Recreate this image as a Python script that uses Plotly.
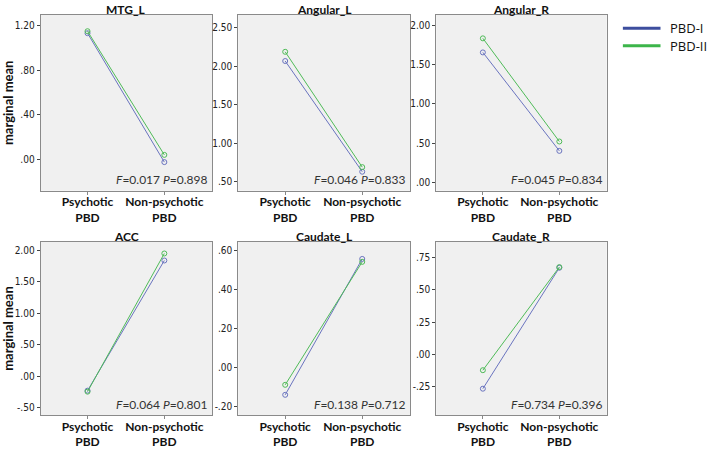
import plotly.graph_objects as go

W, H = 711, 449

categories = ["Psychotic<br>PBD", "Non-psychotic<br>PBD"]
panel_titles = ["MTG_L", "Angular_L", "Angular_R", "ACC", "Caudate_L", "Caudate_R"]
series_names = ["PBD-I", "PBD-II"]

pbd1 = [
    [1.135, -0.027],
    [2.07, 0.63],
    [1.66, 0.40],
    [-0.227, 1.835],
    [-0.138, 0.555],
    [-0.265, 0.670],
]
pbd2 = [
    [1.153, 0.038],
    [2.19, 0.69],
    [1.84, 0.52],
    [-0.243, 1.946],
    [-0.087, 0.540],
    [-0.122, 0.675],
]
stats = [
    ("0.017", "0.898"),
    ("0.046", "0.833"),
    ("0.045", "0.834"),
    ("0.064", "0.801"),
    ("0.138", "0.712"),
    ("0.734", "0.396"),
]
tick_vals = [
    [0.0, 0.4, 0.8, 1.2],
    [0.5, 1.0, 1.5, 2.0, 2.5],
    [0.0, 0.5, 1.0, 1.5, 2.0],
    [-0.5, 0.0, 0.5, 1.0, 1.5, 2.0],
    [-0.2, 0.0, 0.2, 0.4, 0.6],
    [-0.25, 0.0, 0.25, 0.5, 0.75],
]
tick_text = [
    [".00", ".40", ".80", "1.20"],
    [".50", "1.00", "1.50", "2.00", "2.50"],
    [".00", ".50", "1.00", "1.50", "2.00"],
    ["-.50", ".00", ".50", "1.00", "1.50", "2.00"],
    ["-.20", ".00", ".20", ".40", ".60"],
    ["-.25", ".00", ".25", ".50", ".75"],
]
y_ranges = [
    [-0.285, 1.30],
    [0.383, 2.67],
    [-0.11, 2.14],
    [-0.616, 2.13],
    [-0.242, 0.642],
    [-0.47, 0.87],
]

# pixel boxes of the panels (left, right, top, bottom)
col_px = [(34, 207), (233.5, 407), (433.5, 605.7)]
row_px = [(15, 192), (243.5, 418)]

blue_line = "#6a74bf"
green_line = "#4fbb58"
blue_leg = "#3d4e9e"
green_leg = "#3cb54a"

title_font = "Lato, 'Open Sans', sans-serif"
tick_font = "'Liberation Sans Narrow', 'DejaVu Sans Condensed', 'Liberation Sans', sans-serif"

fig = go.Figure()
annotations = []
shapes = []
for i in range(6):
    r, c = divmod(i, 3)
    n = i + 1
    xa = "xaxis" if n == 1 else f"xaxis{n}"
    ya = "yaxis" if n == 1 else f"yaxis{n}"
    xref = "x" if n == 1 else f"x{n}"
    yref = "y" if n == 1 else f"y{n}"
    l, rr = col_px[c]
    t, b = row_px[r]
    shapes.append(dict(type="rect", xref="paper", yref="paper",
                       x0=l / W, x1=rr / W, y0=1 - b / H, y1=1 - t / H,
                       fillcolor="#f0f0f0", line=dict(width=0), layer="below"))
    xs = [0, 1]
    fig.add_trace(go.Scatter(
        x=xs, y=pbd1[i], mode="lines+markers", xaxis=xref, yaxis=yref,
        name=series_names[0],
        line=dict(color=blue_line, width=1),
        marker=dict(symbol="circle-open", size=5, color=blue_line, line=dict(width=1)),
        showlegend=False, hoverinfo="skip"))
    fig.add_trace(go.Scatter(
        x=xs, y=pbd2[i], mode="lines+markers", xaxis=xref, yaxis=yref,
        name=series_names[1],
        line=dict(color=green_line, width=1),
        marker=dict(symbol="circle-open", size=5, color=green_line, line=dict(width=1)),
        showlegend=False, hoverinfo="skip"))
    fig.layout[xa] = dict(
        domain=[l / W, rr / W], range=[-0.61, 1.62], anchor=yref,
        tickvals=[0, 1], ticktext=categories, ticks="outside", ticklen=3,
        ticklabelstandoff=-3,
        tickcolor="#888", showline=True, linecolor="#8a8a8a", mirror=True,
        showgrid=False, zeroline=False, fixedrange=True,
        tickfont=dict(family=title_font, size=12, color="#111", weight="bold"))
    fig.layout[ya] = dict(
        domain=[1 - b / H, 1 - t / H], range=y_ranges[i], anchor=xref,
        tickvals=tick_vals[i], ticktext=tick_text[i], ticks="outside", ticklen=3,
        tickcolor="#444", showline=True, linecolor="#8a8a8a", mirror=True,
        showgrid=False, zeroline=False, fixedrange=True,
        tickfont=dict(family=tick_font, size=10, color="#222"))
    if c == 0:
        fig.layout[ya].title = dict(
            text="marginal mean", standoff=6,
            font=dict(family=title_font, size=13, color="#111", weight="bold"))
    annotations.append(dict(
        xref="paper", yref="paper", x=(l + rr) / 2 / W, y=1 - (t - 5) / H,
        xanchor="center", yanchor="middle", showarrow=False, text=panel_titles[i],
        font=dict(family=title_font, size=12, color="#111", weight="bold")))
    f, p = stats[i]
    annotations.append(dict(
        xref="paper", yref="paper", x=(rr - 2) / W, y=1 - (b - 11) / H,
        xanchor="right", yanchor="middle", showarrow=False,
        text=f"<i>F</i>=" + f + f" <i>P</i>=" + p,
        font=dict(family=title_font, size=12, color="#333")))

# legend (drawn as line samples + labels)
leg_y = [28.5, 46]
for name, col, yy in zip(series_names, [blue_leg, green_leg], leg_y):
    shapes.append(dict(type="line", xref="paper", yref="paper",
                       x0=622 / W, x1=660 / W, y0=1 - yy / H, y1=1 - yy / H,
                       line=dict(color=col, width=3)))
    annotations.append(dict(
        xref="paper", yref="paper", x=669 / W, y=1 - yy / H,
        xanchor="left", yanchor="middle", showarrow=False, text=name,
        borderpad=0,
        font=dict(family="'Open Sans', Lato, sans-serif", size=13, color="#111")))

fig.update_layout(
    width=W, height=H, margin=dict(l=0, r=0, t=0, b=0),
    paper_bgcolor="white", plot_bgcolor="rgba(0,0,0,0)",
    annotations=annotations, shapes=shapes, showlegend=False,
)

fig.write_html("out.html", config={"displayModeBar": False},
               post_script="document.body.style.margin='0px';document.body.style.overflow='hidden';")
